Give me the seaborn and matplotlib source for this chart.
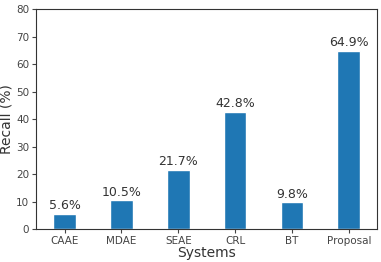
import matplotlib
matplotlib.use("Agg")
import matplotlib.pyplot as plt
import seaborn as sns
import pandas as pd

systems = ["CAAE", "MDAE", "SEAE", "CRL", "BT", "Proposal"]
recall = [5.6, 10.5, 21.7, 42.8, 9.8, 64.9]

df = pd.DataFrame({"Systems": systems, "Recall": recall})

sns.set_style("ticks")
plt.rcParams["font.family"] = ["DejaVu Sans"]

fig, ax = plt.subplots(figsize=(3.81, 2.62), dpi=100)
sns.barplot(data=df, x="Systems", y="Recall", color="#1f77b4", saturation=1,
            width=0.4, ax=ax)

for i, v in enumerate(recall):
    ax.text(i, v + 0.5, f"{v}%", ha="center", va="bottom", fontsize=9, color="#333333")

ax.set_ylim(0, 80)
ax.set_yticks(range(0, 81, 10))
ax.set_xlabel("Systems", fontsize=10, color="#333333", labelpad=0)
ax.set_ylabel("Recall (%)", fontsize=10, color="#333333", labelpad=2)
ax.tick_params(labelsize=7.5, colors="#444444", length=3, pad=2)
for s in ax.spines.values():
    s.set_color("#333333")
    s.set_linewidth(0.8)

fig.subplots_adjust(left=0.095, right=0.99, top=0.965, bottom=0.125)
fig.savefig("out.png", dpi=100)
